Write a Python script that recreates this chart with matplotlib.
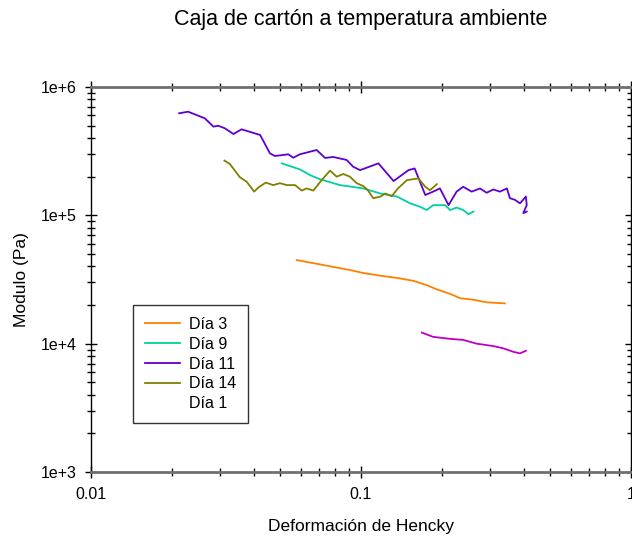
import numpy as np
import matplotlib
matplotlib.use("Agg")
import matplotlib.pyplot as plt
from matplotlib.lines import Line2D
from matplotlib.ticker import LogLocator, FixedLocator, NullFormatter

plt.rcParams['font.family'] = ['Liberation Sans', 'DejaVu Sans']

## Datos (deformacion de Hencky, modulo en Pa)
x_dia3 = [0.0578, 0.0725, 0.0910, 0.102, 0.121, 0.139, 0.156, 0.175, 0.191, 0.214,
          0.233, 0.257, 0.292, 0.341]
y_dia3 = [4.48e4, 4.10e4, 3.75e4, 3.55e4, 3.36e4, 3.23e4, 3.09e4, 2.86e4, 2.65e4, 2.44e4,
          2.26e4, 2.21e4, 2.10e4, 2.06e4]

x_dia9 = [0.0509, 0.0594, 0.0647, 0.0705, 0.0836, 0.102, 0.118, 0.136, 0.152, 0.165,
          0.175, 0.185, 0.205, 0.214, 0.226, 0.239, 0.250, 0.261]
y_dia9 = [2.54e5, 2.28e5, 2.06e5, 1.91e5, 1.72e5, 1.62e5, 1.48e5, 1.40e5, 1.24e5, 1.17e5,
          1.10e5, 1.20e5, 1.20e5, 1.10e5, 1.15e5, 1.10e5, 1.02e5, 1.07e5]

x_dia11 = [0.0212, 0.0229, 0.0264, 0.0284, 0.0296, 0.0313, 0.0337, 0.0361, 0.0423, 0.0460,
           0.0480, 0.0538, 0.0561, 0.0594, 0.0685, 0.0736, 0.0789, 0.0885, 0.0936, 0.0992,
           0.116, 0.132, 0.150, 0.158, 0.173, 0.185, 0.196, 0.211, 0.226, 0.239,
           0.257, 0.276, 0.292, 0.309, 0.327, 0.347, 0.356, 0.372, 0.388, 0.408,
           0.411, 0.399, 0.411]
y_dia11 = [6.24e5, 6.42e5, 5.70e5, 4.91e5, 4.99e5, 4.77e5, 4.30e5, 4.68e5, 4.23e5, 3.04e5,
           2.90e5, 2.99e5, 2.81e5, 2.99e5, 3.23e5, 2.80e5, 2.85e5, 2.70e5, 2.39e5, 2.25e5,
           2.54e5, 1.85e5, 2.25e5, 2.32e5, 1.44e5, 1.53e5, 1.62e5, 1.20e5, 1.53e5, 1.67e5,
           1.53e5, 1.62e5, 1.50e5, 1.59e5, 1.53e5, 1.62e5, 1.36e5, 1.32e5, 1.24e5, 1.40e5,
           1.20e5, 1.04e5, 1.07e5]

x_dia14 = [0.0312, 0.0327, 0.0356, 0.0377, 0.0402, 0.0417, 0.0444, 0.0473, 0.0501, 0.0531,
           0.0570, 0.0603, 0.0629, 0.0666, 0.0715, 0.0768, 0.0813, 0.0860, 0.0910, 0.0964,
           0.102, 0.106, 0.111, 0.118, 0.123, 0.130, 0.137, 0.148, 0.163, 0.173,
           0.180, 0.191]
y_dia14 = [2.67e5, 2.51e5, 1.98e5, 1.83e5, 1.53e5, 1.65e5, 1.80e5, 1.72e5, 1.78e5, 1.72e5,
           1.72e5, 1.56e5, 1.62e5, 1.56e5, 1.88e5, 2.23e5, 2.00e5, 2.10e5, 2.00e5, 1.78e5,
           1.69e5, 1.57e5, 1.36e5, 1.40e5, 1.48e5, 1.41e5, 1.62e5, 1.88e5, 1.94e5, 1.67e5,
           1.57e5, 1.75e5]

x_dia1 = [0.168, 0.185, 0.214, 0.239, 0.268, 0.309, 0.337, 0.366, 0.388, 0.408]
y_dia1 = [1.22e4, 1.13e4, 1.09e4, 1.07e4, 1.00e4, 9.58e3, 9.19e3, 8.65e3, 8.40e3, 8.81e3]

## Figura
fig = plt.figure(figsize=(6.32, 5.36), dpi=100)
ax = fig.add_axes([91/632, 1-472/536, 540/632, 385/536])

ax.plot(x_dia3, y_dia3, color='#ff8000', lw=1.3, label='Día 3')
ax.plot(x_dia9, y_dia9, color='#00d0a0', lw=1.3, label='Día 9')
ax.plot(x_dia11, y_dia11, color='#6000d0', lw=1.3, label='Día 11')
ax.plot(x_dia14, y_dia14, color='#808000', lw=1.3, label='Día 14')
ax.plot(x_dia1, y_dia1, color='#c000c0', lw=1.3)

ax.set_xscale('log')
ax.set_yscale('log')
ax.set_xlim(0.01, 1)
ax.set_ylim(1e3, 1e6)

ax.xaxis.set_major_locator(FixedLocator([0.01, 0.1, 1]))
ax.xaxis.set_minor_locator(LogLocator(base=10, subs=np.arange(2, 10)))
ax.xaxis.set_minor_formatter(NullFormatter())
ax.set_xticklabels(['0.01', '0.1', '1'])
ax.yaxis.set_major_locator(FixedLocator([1e3, 1e4, 1e5, 1e6]))
ax.yaxis.set_minor_locator(LogLocator(base=10, subs=np.arange(2, 10)))
ax.yaxis.set_minor_formatter(NullFormatter())
ax.set_yticklabels(['1e+3', '1e+4', '1e+5', '1e+6'])

ax.tick_params(which='both', direction='inout', top=True, right=True, labelsize=11.5, color='black')
ax.tick_params(which='major', length=9, width=1, pad=6)
ax.tick_params(which='minor', length=6, width=1)

ax.spines['top'].set_color('#707070')
ax.spines['bottom'].set_color('#707070')
ax.spines['top'].set_linewidth(2)
ax.spines['bottom'].set_linewidth(2)
ax.spines['left'].set_linewidth(1)
ax.spines['right'].set_linewidth(1)

fig.text(361/632, 1-20/536, 'Caja de cartón a temperatura ambiente', ha='center', va='center', fontsize=15.5)
fig.text(361/632, 1-526/536, 'Deformación de Hencky', ha='center', va='center', fontsize=12.5)
fig.text(22/632, 1-280/536, 'Modulo (Pa)', ha='center', va='center', rotation=90, fontsize=12.5)

handles, labels = ax.get_legend_handles_labels()
handles.append(Line2D([], [], linestyle='none'))
labels.append('Día 1')
leg = ax.legend(handles, labels, loc='upper left', bbox_to_anchor=((133-91)/540, (472-305)/385),
                fontsize=11.5, frameon=True, fancybox=False, borderpad=0.75, labelspacing=0.3,
                handlelength=2.2, handletextpad=0.55, borderaxespad=0)
leg.get_frame().set_edgecolor('black')
leg.get_frame().set_linewidth(1)

fig.savefig('out.png', dpi=100)
